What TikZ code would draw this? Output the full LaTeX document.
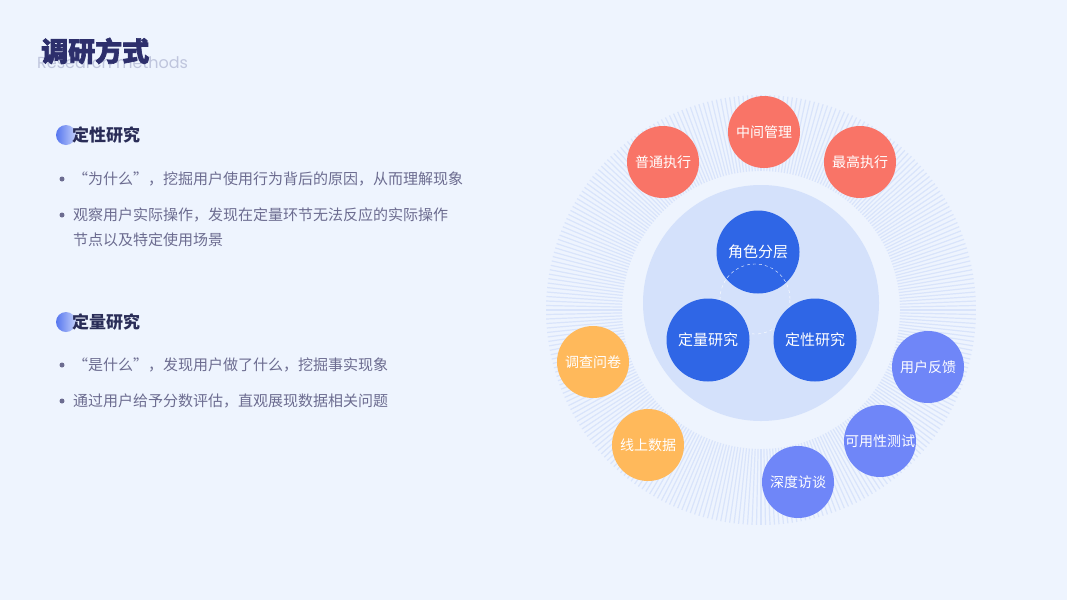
\documentclass[tikz,border=0pt]{standalone}
\usepackage{fontspec}
\setmainfont{Noto Sans CJK SC}
\newfontfamily\enfont{Poppins}
\newfontfamily\titlefont[BoldFeatures={FakeBold=2.5}]{Noto Sans CJK SC}
\usepackage{tikz}
\usetikzlibrary{positioning}

\definecolor{bgblue}{HTML}{EEF4FE}
\definecolor{hatchblue}{HTML}{D9E4FB}
\definecolor{diskblue}{HTML}{D4E1FB}
\definecolor{coreblue}{HTML}{2F66E6}
\definecolor{coral}{HTML}{F97467}
\definecolor{amber}{HTML}{FFB95B}
\definecolor{violet}{HTML}{6F86F8}
\definecolor{navy}{HTML}{2D2F6C}
\definecolor{headnavy}{HTML}{2A2D58}
\definecolor{bodygray}{HTML}{6C6C90}
\definecolor{subgray}{HTML}{BFC5DD}
\definecolor{badgedark}{HTML}{5676EF}
\definecolor{badgelight}{HTML}{C4D0FA}

\begin{document}
\begin{tikzpicture}[x=1pt,y=-1pt,
        core/.style={circle,fill=coreblue,minimum size=83pt,inner sep=0pt,
                     text=white,font=\fontsize{15}{18}\selectfont},
        role/.style={circle,fill=coral,minimum size=72pt,inner sep=0pt,
                     text=white,font=\fontsize{14}{17}\selectfont},
        quant/.style={role,fill=amber},
        qual/.style={role,fill=violet},
        hatch/.style={hatchblue,line width=1.2pt},
        badge/.style={circle,minimum size=20pt,inner sep=0pt,
                      left color=badgedark,right color=badgelight},
        head/.style={anchor=west,inner sep=0pt,text=headnavy,
                     font=\fontsize{17}{20}\selectfont\bfseries},
        item/.style={anchor=west,inner sep=0pt,text=bodygray,
                     font=\fontsize{15}{18}\selectfont},
        bullet/.style={circle,fill=bodygray,inner sep=0pt,minimum size=5pt}]
        \useasboundingbox[fill=bgblue] (0,0) rectangle (1067,600);
        % title
        \node[anchor=west,inner sep=0pt,text=subgray,font=\enfont\fontsize{16}{18}\selectfont]
          (sub) at (37,63) {Research methods};
        \node[anchor=west,inner sep=0pt,text=navy,font=\titlefont\fontsize{27}{30}\selectfont\bfseries]
          (title) at (41,51) {调研方式};
        % qualitative
        \node[badge] (b1) at (66,135) {};
        \node[head] (h1) at (72,135) {定性研究};
        \foreach \i/\y/\lbl in {1/179/{“为什么”，挖掘用户使用行为背后的原因，从而理解现象},
                                2/215/{观察用户实际操作，发现在定量环节无法反应的实际操作}}{
          \node[bullet] (d1\i) at (62,\y) {};
          \node[item] (t1\i) at (73,\y) {\lbl};
        }
        \node[item] (t13) at (73,240) {节点以及特定使用场景};
        % quantitative
        \node[badge] (b2) at (66,322) {};
        \node[head] (h2) at (72,322) {定量研究};
        \foreach \i/\y/\lbl in {1/365/{“是什么”，发现用户做了什么，挖掘事实现象},
                                2/401/{通过用户给予分数评估，直观展现数据相关问题}}{
          \node[bullet] (d2\i) at (62,\y) {};
          \node[item] (t2\i) at (73,\y) {\lbl};
        }
        % ring
        \foreach \a in {0,1.2,...,359}
          \draw[hatch] (761,310) ++(\a:139) -- ++(\a:76);
        \node[circle,fill=diskblue,minimum size=236pt,inner sep=0pt] (disk) at (761,303) {};
        \node[core] (layer) at (758,252) {角色分层};
        \node[circle,draw=white,dashed,thin,minimum size=70pt,inner sep=0pt] (loop) at (755,299) {};
        \node[core] (quantc) at (708,340) {定量研究};
        \node[core] (qualc)  at (815,340) {定性研究};
        % outer circles
        \foreach \n/\x/\y/\lbl in {mid/764/132/中间管理,low/663/162/普通执行,top/860/162/最高执行}
          \node[role] (\n) at (\x,\y) {\lbl};
        \foreach \n/\x/\y/\lbl in {survey/593/362/调查问卷,online/648/445/线上数据}
          \node[quant] (\n) at (\x,\y) {\lbl};
        \foreach \n/\x/\y/\lbl in {interview/798/482/深度访谈,usability/880/441/可用性测试,feedback/928/367/用户反馈}
          \node[qual] (\n) at (\x,\y) {\lbl};
      \end{tikzpicture}
\end{document}
